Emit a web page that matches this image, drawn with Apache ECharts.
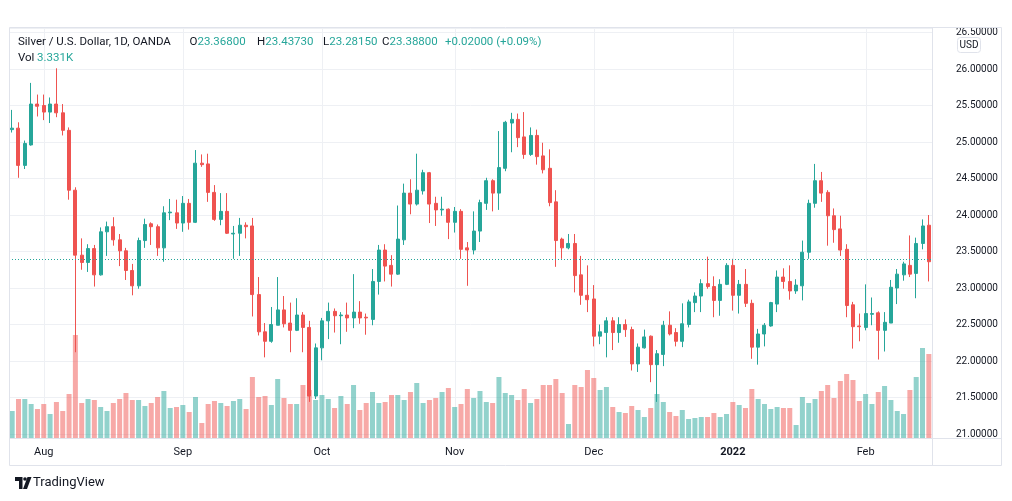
<!DOCTYPE html>
<html><head><meta charset="utf-8">
<script src="https://cdn.jsdelivr.net/npm/echarts@6/dist/echarts.min.js"></script>
<style>html,body{margin:0;padding:0;background:#fff}#c{width:1012px;height:501px}</style>
</head><body><div id="c"></div>
<script>
// ---- data ----
const opens=[25.17,25.19,24.68,24.96,25.52,25.50,25.41,25.52,25.40,25.16,
24.34,23.45,23.35,23.54,23.18,23.77,23.84,23.66,23.51,23.24,
23.03,23.65,23.88,23.84,23.55,24.03,24.03,23.89,24.16,23.90,
24.71,24.70,24.31,23.94,24.05,23.74,23.75,23.86,23.85,22.91,
22.40,22.27,22.49,22.70,22.52,22.42,22.63,22.46,21.52,22.18,
22.55,22.68,22.62,22.63,22.59,22.67,22.60,22.57,23.09,23.52,
23.31,23.19,23.66,24.30,24.15,24.33,24.58,24.16,24.07,24.08,
23.90,24.05,23.55,23.52,23.78,24.16,24.47,24.30,24.64,25.26,
25.31,25.07,24.83,25.09,24.81,24.64,24.18,23.67,23.55,23.61,
23.18,22.90,22.85,22.34,22.39,22.55,22.39,22.50,22.43,21.96,
22.18,22.34,21.95,22.09,22.49,22.39,22.27,22.50,22.80,22.89,
23.06,23.02,22.83,23.05,23.31,22.90,23.05,22.79,22.19,22.37,
22.48,22.78,23.15,23.09,22.96,23.03,23.49,24.16,24.47,24.31,
23.99,23.81,23.53,22.77,22.48,22.46,22.64,22.66,22.42,22.52,
23.00,23.18,23.31,23.20,23.61,23.86];
const closes=[25.19,24.68,24.98,25.52,25.49,25.41,25.52,25.40,25.16,24.34,
23.45,23.35,23.54,23.18,23.77,23.84,23.66,23.51,23.24,23.03,
23.65,23.87,23.84,23.55,24.03,24.04,23.89,24.16,23.90,24.71,
24.69,24.31,23.94,24.05,23.75,23.75,23.86,23.84,22.91,22.40,
22.27,22.50,22.70,22.51,22.42,22.63,22.46,21.52,22.18,22.55,
22.68,22.62,22.63,22.59,22.67,22.59,22.59,23.09,23.52,23.30,
23.19,23.67,24.30,24.15,24.34,24.58,24.15,24.07,24.08,23.90,
24.05,23.53,23.52,23.78,24.17,24.47,24.30,24.65,25.27,25.31,
25.06,24.83,25.09,24.80,24.62,24.17,23.65,23.55,23.61,23.17,
22.90,22.84,22.34,22.40,22.55,22.39,22.50,22.43,21.96,22.19,
22.33,21.95,22.10,22.49,22.37,22.27,22.51,22.81,22.89,23.06,
23.02,22.83,23.05,23.31,22.90,23.05,22.79,22.19,22.37,22.49,
22.80,23.15,23.09,22.96,23.04,23.49,24.16,24.47,24.30,23.99,
23.80,23.52,22.76,22.47,22.47,22.65,22.65,22.42,22.53,23.01,
23.19,23.33,23.19,23.61,23.85,23.36];
const highs=[25.44,25.27,25.02,25.81,25.65,25.65,25.61,26.01,25.52,25.20,
24.38,23.68,23.60,23.59,23.83,23.91,23.97,23.74,23.55,23.33,
23.69,23.95,23.90,23.87,24.12,24.22,24.21,24.26,24.22,24.89,
24.83,24.84,24.41,24.30,24.30,23.85,23.96,23.90,23.96,23.15,
22.52,22.74,23.15,22.89,22.80,22.86,22.67,22.55,22.24,22.59,
22.80,22.72,22.67,22.80,23.19,22.82,22.65,23.26,23.59,23.60,
23.45,24.13,24.43,24.49,24.84,24.62,24.59,24.25,24.25,24.09,
24.11,24.08,23.63,24.05,24.21,24.51,24.49,25.15,25.29,25.40,
25.39,25.41,25.20,25.17,24.99,24.90,24.34,23.69,23.74,23.74,
23.44,23.31,23.04,22.50,22.60,22.60,22.60,22.57,22.47,22.24,
22.43,22.35,22.15,22.55,22.68,22.45,22.79,22.84,22.94,23.12,
23.43,23.16,23.12,23.34,23.40,23.11,23.26,22.84,22.44,22.52,
22.81,23.24,23.27,23.31,23.12,23.65,24.21,24.70,24.59,24.34,
24.09,23.99,23.60,22.81,22.65,23.05,22.87,22.68,22.67,23.11,
23.26,23.36,23.72,23.69,23.94,24.00];
const lows=[25.13,24.51,24.63,24.95,25.35,25.30,25.26,25.34,25.09,24.21,
22.12,23.25,23.22,23.02,23.17,23.44,23.58,23.30,23.11,22.90,
22.99,23.55,23.59,23.44,23.36,23.93,23.81,23.77,23.80,23.89,
24.66,24.18,23.92,23.86,23.74,23.40,23.44,23.68,22.61,22.35,
22.05,22.25,22.49,22.46,22.12,22.41,22.12,21.44,21.48,22.01,
22.30,22.39,22.23,22.40,22.45,22.51,22.36,22.49,22.91,23.09,
23.02,23.18,23.59,24.01,24.13,24.28,23.89,23.85,23.99,23.67,
23.76,23.40,23.03,23.46,23.63,24.07,24.05,24.07,24.60,24.86,
24.93,24.77,24.81,24.69,24.57,24.12,23.29,23.40,23.53,22.94,
22.77,22.67,22.20,22.23,22.05,22.15,22.25,22.33,21.87,21.85,
22.17,21.71,21.44,21.93,22.35,22.20,22.19,22.46,22.67,22.67,
22.99,22.60,22.62,23.04,22.69,22.65,22.74,22.03,21.95,22.20,
22.47,22.67,22.99,22.84,22.92,22.83,23.40,24.10,24.18,23.58,
23.62,23.44,22.60,22.17,22.27,22.42,22.49,22.02,22.13,22.52,
22.78,23.10,23.15,22.86,23.53,23.09];
const volumes=[13.5,19.5,19.5,17,14.5,17,12,18,13.5,22,
51.5,17.5,19.5,19,15.5,13.5,17.5,19.5,22.5,19,
19,16,17.5,20.5,23.5,15,15.5,16.5,13,20.5,
7.5,17,18.5,17.5,16,18.5,19.5,14.5,30.5,20.5,
21,16.5,29.5,20,17,17,26.5,24,19,21.5,
19.5,15,21,17,26.5,14,17.5,23,17.5,18,
21.5,21.5,19,23,27.5,17.5,19,20,23,25,
15.5,17,24.5,20,23.5,18,17.5,30.5,22.5,21.5,
19,24.5,17.5,19.5,26.5,26.5,29.5,22.5,7,26.5,
25.5,34,30,24,25.5,15.5,13,12.5,16,14,
10.5,15,22,18,13,11,14,9.5,10,10.5,
10.5,12.5,10.5,12,18,16.5,15,24.5,19.5,17,
14.5,15.5,15,15,6.5,20.5,17.5,19.5,23.5,26.5,
20,28.5,32,29,18.5,22,17,23,26,19,
13.5,12,24,30.5,45,42];
const monthNames=['Aug','Sep','Oct','Nov','Dec','2022','Feb'];
const lastPrice=23.388;
const holidays=['2021-12-24'];
const firstDay='2021-07-26';

// trading-day categories
const dates=[];
let dt=new Date(firstDay+'T00:00:00Z');
while(dates.length<closes.length){
  const wd=dt.getUTCDay(); const s=dt.toISOString().slice(0,10);
  if(wd!==0&&wd!==6&&!holidays.includes(s)) dates.push(s);
  dt=new Date(dt.getTime()+86400000);
}
const monthStartIdx=[];
dates.forEach((s,i)=>{ if(i>0&&s.slice(0,7)!==dates[i-1].slice(0,7)) monthStartIdx.push(i); });

const up='#26a69a', down='#ef5350', upVol='rgba(38,166,154,0.5)', downVol='rgba(239,83,80,0.5)';
const gridColor='#eef0f4', textColor='#131722', font='Roboto, sans-serif';
const hf='11.5px '+font;

const chart=echarts.init(document.getElementById('c'),null,{renderer:'canvas'});
const headerSegs=[[189.5,'O','23.36800'],[257,'H','23.43730'],[323,'L','23.28150'],[382,'C','23.38800'],[445,'','+0.02000 (+0.09%)']];
const graphics=[
  {type:'rect',shape:{x:933,y:438.8,width:68,height:6},style:{fill:'#fff'},z:99,silent:true},
  {type:'rect',shape:{x:9.5,y:27.5,width:992,height:438},style:{fill:null,stroke:'#e0e3eb',lineWidth:1},z:100,silent:true},
  {type:'line',shape:{x1:932.5,y1:27.5,x2:932.5,y2:465.5},style:{stroke:'#e0e3eb',lineWidth:1},z:100,silent:true},
  {type:'line',shape:{x1:9.5,y1:438.5,x2:1001.5,y2:438.5},style:{stroke:'#e0e3eb',lineWidth:1},z:100,silent:true},
  {type:'text',x:18,y:42,style:{text:'Silver / U.S. Dollar, 1D, OANDA',fill:textColor,font:hf,verticalAlign:'middle'},z:100},
  {type:'text',x:18,y:58,style:{text:'Vol',fill:textColor,font:hf,verticalAlign:'middle'},z:100},
  {type:'text',x:37,y:58,style:{text:'3.331K',fill:up,font:hf,verticalAlign:'middle'},z:100},
  {type:'rect',shape:{x:957.5,y:37.5,width:23,height:15,r:3},style:{fill:'#fff',stroke:'#e0e3eb',lineWidth:1},z:100},
  {type:'text',x:969,y:45,style:{text:'USD',fill:textColor,font:'10px '+font,align:'center',verticalAlign:'middle'},z:101},
  {type:'polygon',shape:{points:[[15,477],[22.5,477],[22.5,489],[19,489],[19,481],[15,481]]},style:{fill:'#131722'},z:100},
  {type:'circle',shape:{cx:25,cy:479,r:1.8},style:{fill:'#131722'},z:100},
  {type:'polygon',shape:{points:[[27.5,477],[31.5,477],[27,489],[23,489]]},style:{fill:'#131722'},z:100},
  {type:'text',x:33,y:483,style:{text:'TradingView',fill:textColor,font:'13px '+font,verticalAlign:'middle'},z:100}
];
headerSegs.forEach(([x,a,b])=>{
  graphics.push({type:'text',x:x,y:42,style:{text:(a?'{a|'+a+'}':'')+'{b|'+b+'}',font:hf,verticalAlign:'middle',
    rich:{a:{fill:textColor,font:hf},b:{fill:up,font:hf}}},z:100});
});

const option={
  animation:false,
  backgroundColor:'#fff',
  grid:[{left:9,right:80,top:28,bottom:67},{left:9,right:80,top:28,bottom:63}],
  xAxis:[
    {type:'category',data:dates,gridIndex:0,boundaryGap:true,show:false},
    {type:'category',data:dates,gridIndex:1,boundaryGap:true,
     axisLine:{show:false},axisTick:{show:false},splitLine:{show:false},
     axisLabel:{interval:(i)=>monthStartIdx.includes(i),
       formatter:(v,i)=>{const k=monthStartIdx.indexOf(i);const t=monthNames[k]||'';return t==='2022'?'{b|'+t+'}':t;},
       color:textColor,fontSize:11,margin:9,fontFamily:font,
       rich:{b:{fontWeight:'bold',fontSize:11,color:textColor,fontFamily:font}}}}
  ],
  yAxis:[
    {type:'value',gridIndex:0,position:'right',min:21,max:26.562,interval:0.5,scale:true,
     axisLine:{show:false},axisTick:{show:false},
     splitLine:{lineStyle:{color:gridColor,width:1}},
     axisLabel:{formatter:v=>(Math.abs(v*2-Math.round(v*2))<1e-6?v.toFixed(5):''),color:textColor,fontSize:10,margin:24,align:'left',fontFamily:font}},
    {type:'value',gridIndex:1,min:0,max:205,show:false}
  ],
  graphic:graphics,
  series:[
    {type:'custom',xAxisIndex:1,yAxisIndex:1,silent:true,z:0,
     data:monthStartIdx.map(i=>[i,0]),encode:{x:0,y:1},
     renderItem:(params,api)=>{const x=Math.round(api.coord([api.value(0),0])[0])+0.5;const cs=params.coordSys;
       return {type:'line',shape:{x1:x,y1:cs.y,x2:x,y2:cs.y+cs.height},style:{stroke:gridColor,lineWidth:1}};}},
    {type:'bar',xAxisIndex:1,yAxisIndex:1,z:1,barWidth:5,silent:true,
     data:volumes.map((v,i)=>({value:v,itemStyle:{color:closes[i]>=opens[i]?upVol:downVol}}))},
    {type:'candlestick',xAxisIndex:0,yAxisIndex:0,z:3,barWidth:3.5,silent:true,
     data:opens.map((o,i)=>[o,closes[i],lows[i],highs[i]]),
     itemStyle:{color:up,color0:down,borderColor:up,borderColor0:down,borderWidth:1},
     markLine:{symbol:'none',silent:true,label:{show:false},animation:false,
       lineStyle:{color:up,type:[1,2],width:1},data:[{yAxis:lastPrice}]}}
  ]
};
chart.setOption(option);
</script></body></html>
